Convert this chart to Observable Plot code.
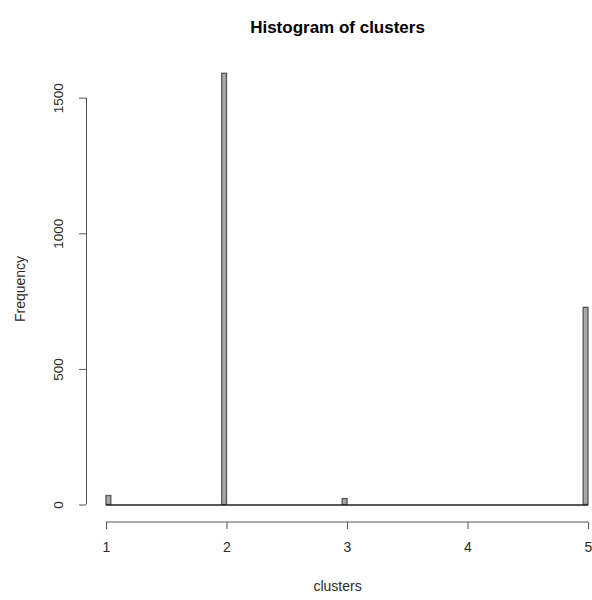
<!DOCTYPE html>
<html>
<head>
<meta charset="utf-8">
<script src="https://cdn.jsdelivr.net/npm/d3@7"></script>
<script src="https://cdn.jsdelivr.net/npm/@observablehq/plot@0.6"></script>
<style>
  html, body { margin: 0; padding: 0; background: #fff; }
  #chart { width: 592px; height: 600px; }
</style>
</head>
<body>
<div id="chart"></div>
<script>
// Data
const titleText = "Histogram of clusters";
const xLabel = "clusters";
const yLabel = "Frequency";
const clusterValues = [1, 2, 3, 5];
const frequencies = [33, 1590, 22, 727];
const xTicks = [1, 2, 3, 4, 5];
const yTicks = [0, 500, 1000, 1500];
const breakStart = 1, breakEnd = 5, binWidth = 0.04;

// Build R-style right-closed bins
const nBins = Math.round((breakEnd - breakStart) / binWidth);
const bins = d3.range(nBins).map(i => {
  const x1 = +(breakStart + i * binWidth).toFixed(6);
  const x2 = +(breakStart + (i + 1) * binWidth).toFixed(6);
  let count = 0;
  clusterValues.forEach((v, k) => {
    if ((v > x1 + 1e-9 && v <= x2 + 1e-9) || (i === 0 && Math.abs(v - x1) < 1e-9)) count += frequencies[k];
  });
  return {x1, x2, count};
});

const ink = "#2b2b2b";
const chart = Plot.plot({
  width: 592,
  height: 600,
  marginLeft: 86,
  marginRight: 4,
  marginTop: 55,
  marginBottom: 78,
  style: {fontFamily: "'Liberation Sans', Arial, sans-serif", fontSize: "12px", background: "#fff", color: ink},
  x: {domain: [breakStart, breakEnd], range: [106, 588]},
  y: {domain: [0, 1500], range: [504.5, 97.7]},
  marks: [
    Plot.rectY(bins, {x1: "x1", x2: "x2", y: "count", fill: "#a8a8a8", stroke: "#555", strokeWidth: 1.3}),
    Plot.ruleY([0], {x1: breakStart, x2: breakEnd, stroke: "#222", strokeWidth: 1.5}),
    // x axis (R style)
    Plot.ruleY([0], {x1: xTicks[0], x2: xTicks[xTicks.length - 1], dy: 17, stroke: "#555"}),
    Plot.axisX({ticks: xTicks, tickSize: 7, tickPadding: 13, tickFormat: d => String(d), label: null, stroke: "#555", fill: ink, fontSize: 14}),
    // y axis (R style)
    Plot.ruleX([breakStart], {y1: yTicks[0], y2: yTicks[yTicks.length - 1], dx: -20, stroke: "#555"}),
    Plot.axisY({ticks: yTicks, tickSize: 7, tickFormat: () => "", label: null, stroke: "#555"}),
    Plot.text(yTicks, {y: d => d, text: d => String(d), frameAnchor: "left", textAnchor: "middle", dx: -28, rotate: -90, fill: ink, fontSize: 13.5}),
    // labels
    Plot.text([titleText], {frameAnchor: "top", textAnchor: "middle", dy: -35, fontWeight: "bold", fontSize: 17, fill: "#000"}),
    Plot.text([xLabel], {frameAnchor: "bottom", textAnchor: "middle", dy: 68, fontSize: 14, fill: ink}),
    Plot.text([yLabel], {frameAnchor: "left", textAnchor: "middle", dx: -66, rotate: -90, fontSize: 14, fill: ink})
  ]
});
document.getElementById("chart").appendChild(chart);
</script>
</body>
</html>
